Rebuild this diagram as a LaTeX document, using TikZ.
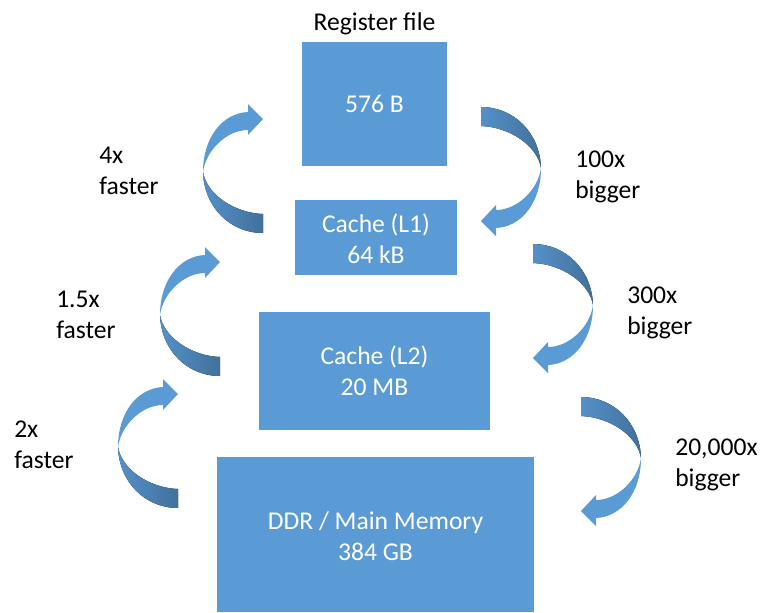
\documentclass[tikz,border=0pt]{standalone}
\usepackage{fontspec}
\setmainfont{Carlito}
\definecolor{boxblue}{HTML}{5B9BD5}
\definecolor{lightband}{HTML}{5B9BD5}
\definecolor{darkband}{HTML}{41719C}
\definecolor{midband}{HTML}{5590C8}
\tikzset{
  blockbox/.style={fill=boxblue, draw=none},
  boxtext/.style={text=white, font=\fontsize{19.2}{23}\selectfont, inner sep=0pt, anchor=base},
  labeltext/.style={text=black, font=\fontsize{19.2}{23}\selectfont, inner sep=0pt, anchor=base west},
  curvearrow/.pic={
    \fill[left color=midband, right color=darkband]
      (0,0) .. controls (1,35) and (27,61) .. (60,61) -- (60,42)
      .. controls (32,41) and (4,23) .. (0,0) -- cycle;
    \fill[lightband]
      (0,0) .. controls (0,-35) and (20,-59) .. (45,-60) -- (45,-68) -- (60,-53)
      -- (45,-37) -- (45,-42) .. controls (24,-42) and (3,-22) .. (0,0) -- cycle;
  }
}
\begin{document}
\begin{tikzpicture}[x=0.75pt, y=-0.75pt]
\useasboundingbox (0,0) rectangle (761,612);
% boxes
\fill[blockbox] (302,42) rectangle (447,166);
\fill[blockbox] (295,200) rectangle (457,275);
\fill[blockbox] (259,312) rectangle (490,430);
\fill[blockbox] (217,457) rectangle (534,612);
% box texts
\node[labeltext, anchor=base] (regtitle) at (374.5,30) {Register file};
\node[boxtext] (reg) at (374.5,112) {576 B};
\node[boxtext] (l1a) at (376,232) {Cache (L1)};
\node[boxtext] (l1b) at (376,263) {64 kB};
\node[boxtext] (l2a) at (374.5,364) {Cache (L2)};
\node[boxtext] (l2b) at (374.5,395) {20 MB};
\node[boxtext] (ddra) at (375.5,529) {DDR / Main Memory};
\node[boxtext] (ddrb) at (375.5,560) {384 GB};
% arrows
\pic at (203,172) {curvearrow};
\pic at (160,315) {curvearrow};
\pic at (118,447) {curvearrow};
\pic[rotate=180] at (541,168) {curvearrow};
\pic[rotate=180] at (593,305) {curvearrow};
\pic[rotate=180] at (641,458) {curvearrow};
% labels
\node[labeltext] (f1a) at (99,163) {4x};
\node[labeltext] (f1b) at (99,194) {faster};
\node[labeltext] (f2a) at (56,307) {1.5x};
\node[labeltext] (f2b) at (56,338) {faster};
\node[labeltext] (f3a) at (14,437) {2x};
\node[labeltext] (f3b) at (14,468) {faster};
\node[labeltext] (b1a) at (575,167) {100x};
\node[labeltext] (b1b) at (575,198) {bigger};
\node[labeltext] (b2a) at (627,303) {300x};
\node[labeltext] (b2b) at (627,334) {bigger};
\node[labeltext] (b3a) at (675,455) {20,000x};
\node[labeltext] (b3b) at (675,486) {bigger};
\end{tikzpicture}
\end{document}
